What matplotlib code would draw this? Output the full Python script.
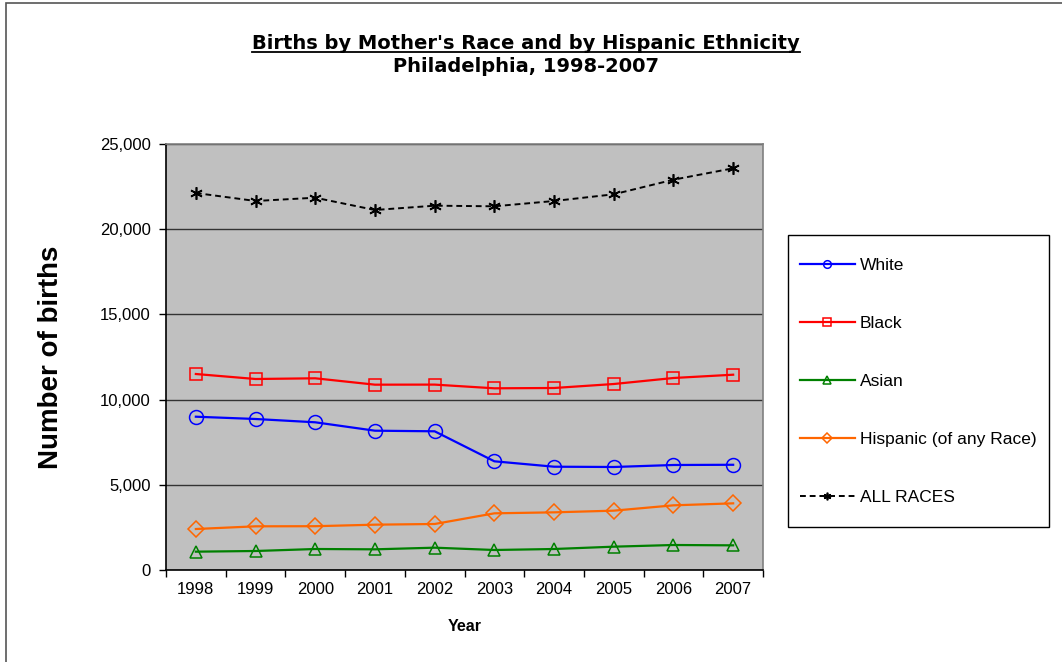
import numpy as np
import matplotlib.pyplot as plt
from matplotlib.patches import Rectangle

plt.rcParams['font.family'] = ['Liberation Sans', 'DejaVu Sans']

years = ['1998', '1999', '2000', '2001', '2002', '2003', '2004', '2005', '2006', '2007']
white = [8996, 8862, 8668, 8175, 8140, 6379, 6062, 6045, 6162, 6175]
black = [11502, 11209, 11250, 10876, 10880, 10663, 10681, 10915, 11268, 11461]
asian = [1076, 1115, 1232, 1213, 1310, 1174, 1232, 1369, 1467, 1447]
hispanic = [2406, 2563, 2570, 2660, 2700, 3326, 3384, 3482, 3795, 3912]
all_races = [22124, 21655, 21848, 21127, 21380, 21344, 21655, 22048, 22905, 23574]

W, H = 1062, 662
fig = plt.figure(figsize=(W / 100, H / 100), dpi=100)
ax = fig.add_axes([166 / W, 92 / H, 597 / W, 426 / H])

# outer chart border (only top/left visible in the reference)
fig.patches.append(Rectangle((6 / W, -0.05), 1.1, 1 - 3 / H + 0.05,
                             transform=fig.transFigure, fill=False,
                             edgecolor='#555555', linewidth=1.2))

x = np.arange(len(years))
ax.set_facecolor('#c0c0c0')

ax.plot(x, white, color='#0000ff', marker='o', markersize=10, markerfacecolor='none',
        markeredgewidth=1.1, linewidth=1.6, label='White')
ax.plot(x, black, color='#ff0000', marker='s', markersize=8.6, markerfacecolor='none',
        markeredgewidth=1.1, linewidth=1.6, label='Black')
ax.plot(x, asian, color='#008000', marker='^', markersize=9, markerfacecolor='none',
        markeredgewidth=1.1, linewidth=1.6, label='Asian')
ax.plot(x, hispanic, color='#ff6600', marker='D', markersize=7.8, markerfacecolor='none',
        markeredgewidth=1.1, linewidth=1.6, label='Hispanic (of any Race)')
ax.plot(x, all_races, color='black', marker=(6, 2, 0), markersize=9,
        markeredgewidth=1.2, linewidth=1.4, linestyle=(0, (3, 2)), label='ALL RACES')

ax.set_xlim(-0.5, len(years) - 0.5)
ax.set_ylim(0, 25000)
ax.set_yticks(np.arange(0, 25001, 5000))
ax.set_yticklabels([f'{v:,}' for v in range(0, 25001, 5000)], fontsize=12)
ax.set_xticks(x)
ax.set_xticklabels(years, fontsize=12)
ax.set_xticks(np.arange(-0.5, len(years), 1), minor=True)
ax.tick_params(axis='x', which='major', length=0, pad=9)
ax.tick_params(axis='x', which='minor', length=5, width=1, direction='out')
ax.tick_params(axis='y', length=5, width=1, direction='out', pad=6)
ax.grid(axis='y', color='#333333', linewidth=1)
ax.set_axisbelow(True)

for s in ['top', 'right']:
    ax.spines[s].set_color('#808080')
    ax.spines[s].set_linewidth(1.2)
for s in ['left', 'bottom']:
    ax.spines[s].set_color('black')
    ax.spines[s].set_linewidth(1.2)

ax.set_xlabel('Year', fontsize=11.5, fontweight='bold')
ax.xaxis.set_label_coords(0.5, -(619 - 570) / 426)
ax.set_ylabel('Number of births', fontsize=20, fontweight='bold')
ax.yaxis.set_label_coords(-(166 - 64) / 597, 0.5)

# title text in the reference is wide, DejaVu Sans Bold matches its width
title_x = 526 / W
t1 = fig.text(title_x, 1 - 49 / H, "Births by Mother's Race and by Hispanic Ethnicity",
              ha='center', va='baseline', fontsize=14, fontweight='bold',
              family='DejaVu Sans')
fig.text(title_x, 1 - 72.5 / H, 'Philadelphia, 1998-2007',
         ha='center', va='baseline', fontsize=14, fontweight='bold',
         family='DejaVu Sans')

# underline the first title line
fig.canvas.draw()
bb = t1.get_window_extent()
fig.add_artist(plt.Line2D([bb.x0 / W, bb.x1 / W], [1 - 52 / H, 1 - 52 / H],
                          color='black', linewidth=1.3))

# legend box drawn separately so the padding matches
fig.patches.append(Rectangle((788 / W, 1 - 527 / H), (1049 - 788) / W, (527 - 235) / H,
                             transform=fig.transFigure, facecolor='white',
                             edgecolor='black', linewidth=1, zorder=1))
leg = fig.legend(loc='upper left', bbox_to_anchor=(800 / W, 1 - 258 / H),
                 fontsize=12.5, frameon=False, borderpad=0,
                 labelspacing=2.47, handlelength=3.15, handletextpad=0.3,
                 borderaxespad=0)
leg.set_zorder(2)
for h in leg.legend_handles:
    h.set_markersize(5.5)

fig.savefig('out.png', dpi=100)
